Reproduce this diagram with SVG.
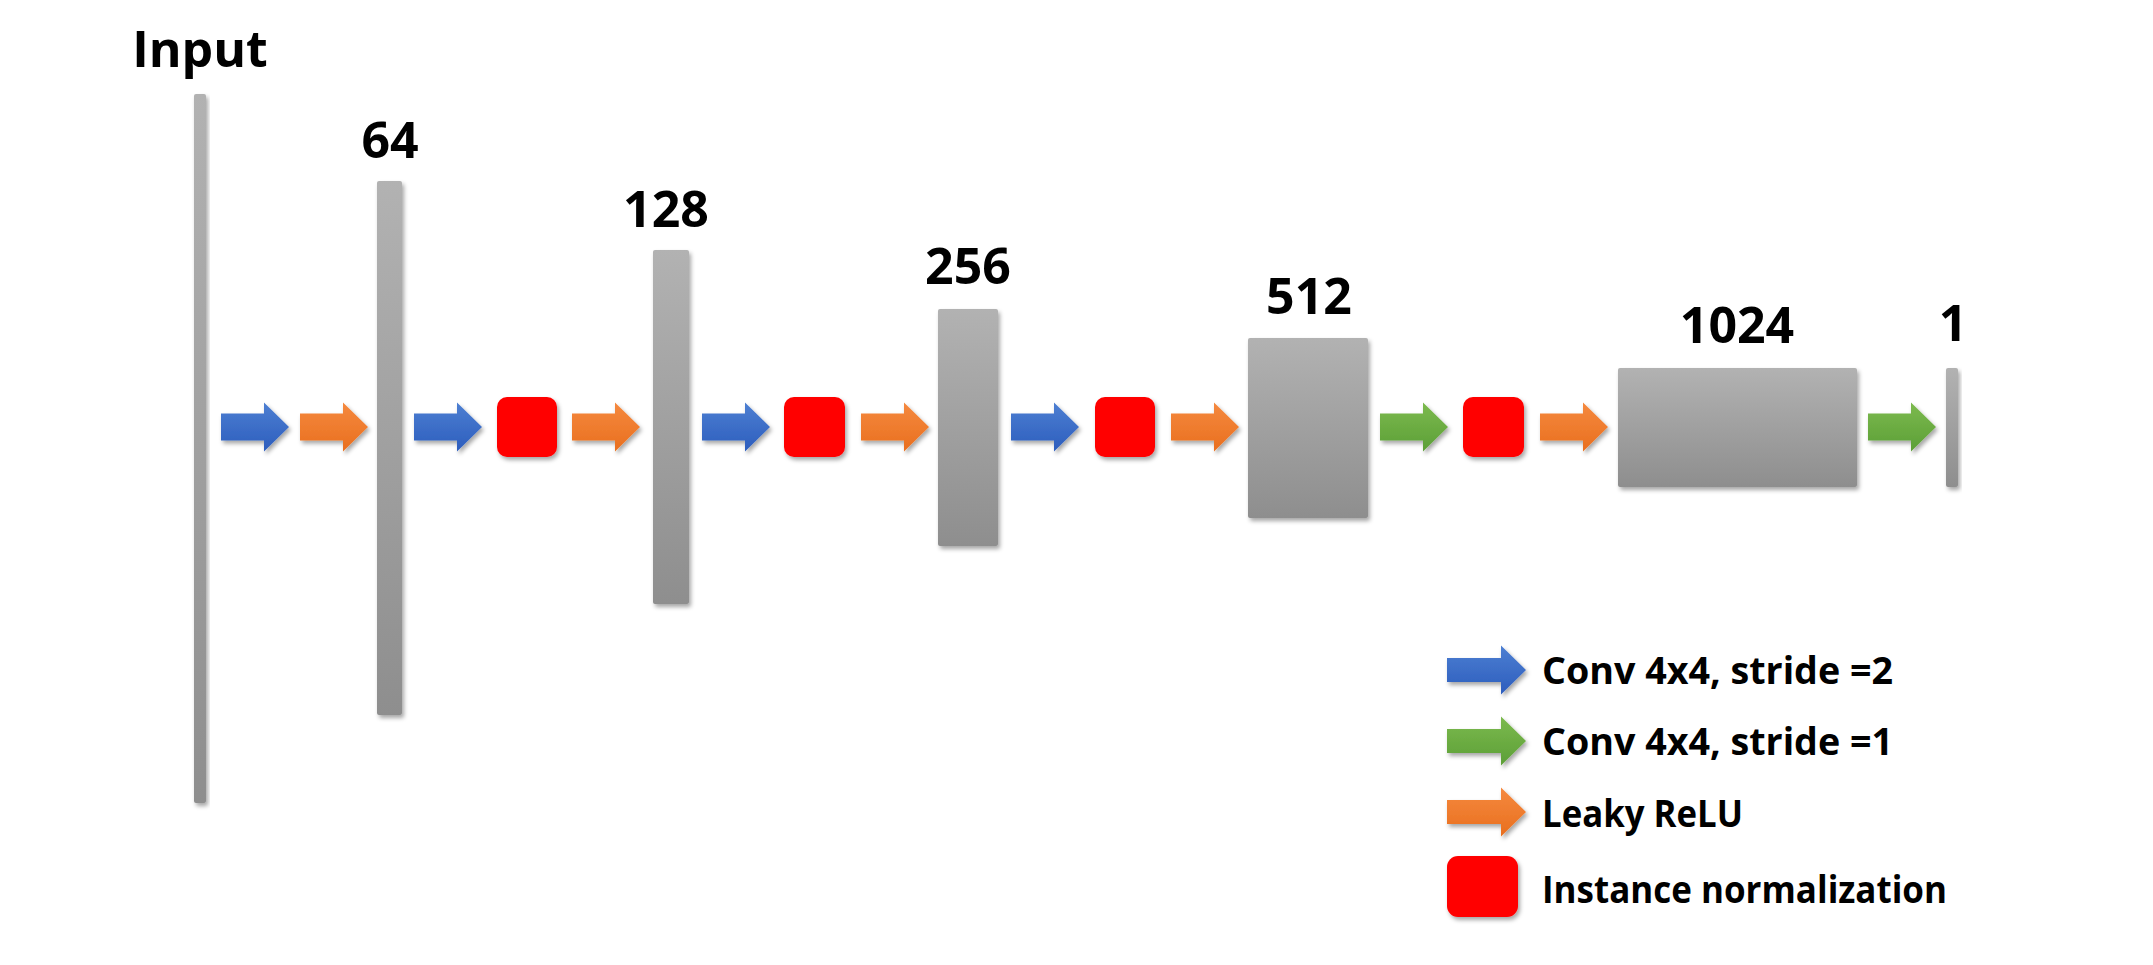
<svg xmlns="http://www.w3.org/2000/svg" width="2153" height="965" viewBox="0 0 2153 965">
<style>
.lbl{font-family:"Open Sans","Noto Sans","Liberation Sans",sans-serif;font-weight:700;font-size:50px;fill:#000;text-anchor:middle}
.leg{font-family:"Open Sans","Noto Sans","Liberation Sans",sans-serif;font-weight:700;font-size:37px;fill:#000}
.bar{fill:url(#gGray);filter:url(#sh)}
.norm{fill:#ff0000;filter:url(#sh)}
.blue{fill:url(#gBlue);filter:url(#sh)}
.orange{fill:url(#gOrange);filter:url(#sh)}
.green{fill:url(#gGreen);filter:url(#sh)}
</style>
<defs>
<linearGradient id="gGray" x1="0" y1="0" x2="0" y2="1"><stop offset="0" stop-color="#b2b2b2"/><stop offset="1" stop-color="#8e8e8e"/></linearGradient>
<linearGradient id="gBlue" x1="0" y1="0" x2="0" y2="1"><stop offset="0" stop-color="#4d7fd2"/><stop offset="1" stop-color="#2c5dbd"/></linearGradient>
<linearGradient id="gOrange" x1="0" y1="0" x2="0" y2="1"><stop offset="0" stop-color="#f5893f"/><stop offset="1" stop-color="#e96f1e"/></linearGradient>
<linearGradient id="gGreen" x1="0" y1="0" x2="0" y2="1"><stop offset="0" stop-color="#7cba4e"/><stop offset="1" stop-color="#5c9f37"/></linearGradient>
<filter id="sh" x="-20%" y="-20%" width="150%" height="150%"><feDropShadow dx="2" dy="3" stdDeviation="2" flood-color="#000" flood-opacity="0.35"/></filter>
<path id="arr" d="M0,-13.5 H43 V-24.5 L68,0 L43,24.5 V13.5 H0 Z"/>
<path id="larr" d="M0,-12 H54 V-24.5 L79,0 L54,24.5 V12 H0 Z"/>
</defs>
<rect width="2153" height="965" fill="#fff"/>

<g id="node-input"><rect class="bar" x="194" y="94" width="12" height="709" rx="2"/><text class="lbl" x="200" y="67">Input</text></g>
<g id="node-64"><rect class="bar" x="377" y="181" width="25" height="534" rx="2"/><text class="lbl" x="390" y="158">64</text></g>
<g id="node-128"><rect class="bar" x="653" y="250" width="36" height="354" rx="2"/><text class="lbl" x="666" y="227">128</text></g>
<g id="node-256"><rect class="bar" x="938" y="309" width="60" height="237" rx="2"/><text class="lbl" x="968" y="284">256</text></g>
<g id="node-512"><rect class="bar" x="1248" y="338" width="120" height="180" rx="2"/><text class="lbl" x="1309" y="314">512</text></g>
<g id="node-1024"><rect class="bar" x="1618" y="368" width="239" height="119" rx="2"/><text class="lbl" x="1737" y="343">1024</text></g>
<g id="node-1"><rect class="bar" x="1946" y="368" width="12" height="119" rx="2"/><text class="lbl" x="1953" y="341">1</text></g>

<g id="norm-1"><rect class="norm" x="497" y="397" width="60" height="60" rx="10"/></g>
<g id="norm-2"><rect class="norm" x="784" y="397" width="61" height="60" rx="10"/></g>
<g id="norm-3"><rect class="norm" x="1095" y="397" width="60" height="60" rx="10"/></g>
<g id="norm-4"><rect class="norm" x="1463" y="397" width="61" height="60" rx="10"/></g>

<g id="connectors">
<use href="#arr" class="blue" x="221" y="427"/>
<use href="#arr" class="orange" x="300" y="427"/>
<use href="#arr" class="blue" x="414" y="427"/>
<use href="#arr" class="orange" x="572" y="427"/>
<use href="#arr" class="blue" x="702" y="427"/>
<use href="#arr" class="orange" x="861" y="427"/>
<use href="#arr" class="blue" x="1011" y="427"/>
<use href="#arr" class="orange" x="1171" y="427"/>
<use href="#arr" class="green" x="1380" y="427"/>
<use href="#arr" class="orange" x="1540" y="427"/>
<use href="#arr" class="green" x="1868" y="427"/>
</g>

<g id="legend">
<use href="#larr" class="blue" x="1447" y="670"/>
<text class="leg" x="1542" y="684" textLength="351" lengthAdjust="spacingAndGlyphs">Conv 4x4, stride =2</text>
<use href="#larr" class="green" x="1447" y="741"/>
<text class="leg" x="1542" y="755" textLength="351" lengthAdjust="spacingAndGlyphs">Conv 4x4, stride =1</text>
<use href="#larr" class="orange" x="1447" y="812"/>
<text class="leg" x="1542" y="827" textLength="201" lengthAdjust="spacingAndGlyphs">Leaky ReLU</text>
<rect class="norm" x="1447" y="856" width="71" height="61" rx="11"/>
<text class="leg" x="1542" y="903" textLength="405" lengthAdjust="spacingAndGlyphs">Instance normalization</text>
</g>
</svg>
